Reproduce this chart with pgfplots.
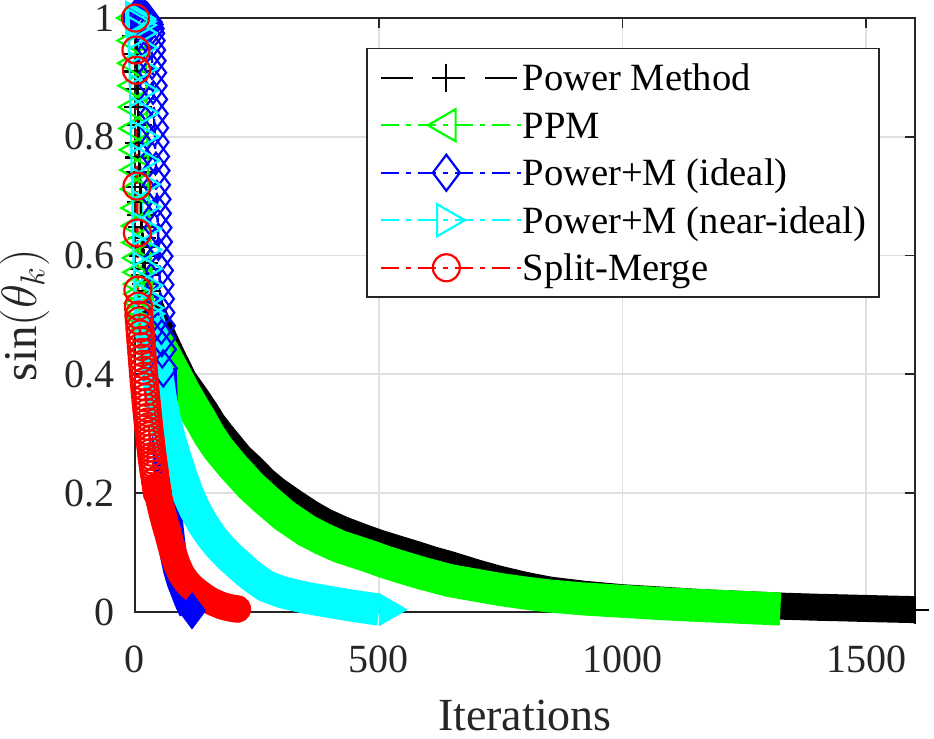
\documentclass[border=0pt]{standalone}
\usepackage{fontspec}
\setmainfont{Liberation Serif}
\usepackage{pgfplots}
\pgfplotsset{compat=1.18}
\usepackage{pgfplotstable}
\definecolor{axgray}{HTML}{262626}
\definecolor{gridgray}{HTML}{DFDFDF}
\definecolor{mgreen}{rgb}{0,1,0}
\definecolor{mcyan}{rgb}{0,1,1}
\definecolor{mblue}{rgb}{0,0,1}
\definecolor{mred}{rgb}{1,0,0}

\pgfplotstableread{
k y
1 1.000
2 0.970
3 0.940
4 0.910
5 0.880
6 0.850
7 0.820
8 0.790
9 0.765
10 0.740
11 0.715
12 0.690
13 0.668
14 0.648
15 0.630
16 0.614
17 0.600
18 0.588
19 0.577
20 0.567
22 0.552
24 0.540
26 0.530
28 0.522
31 0.514
}\pmEarly
\pgfplotstableread{
k y
31 0.514
40 0.497
50 0.478
59 0.461
75 0.433
90 0.408
100 0.391
115 0.374
127 0.360
145 0.338
160 0.318
177 0.300
194 0.283
215 0.262
240 0.243
265 0.222
290 0.205
325 0.185
358 0.167
390 0.152
425 0.139
460 0.128
497 0.117
540 0.106
576 0.097
610 0.088
645 0.080
700 0.066
748 0.055
800 0.045
850 0.037
920 0.030
1000 0.024
1080 0.020
1158 0.016
1240 0.013
1320 0.010
1400 0.008
1450 0.007
1520 0.0055
1600 0.004
}\pmBand
\pgfplotstableread{
k y
1 1.000
2 0.962
3 0.924
4 0.886
5 0.850
6 0.814
7 0.778
8 0.744
9 0.712
10 0.680
11 0.650
12 0.622
13 0.596
14 0.572
15 0.552
16 0.535
17 0.520
18 0.508
20 0.495
}\ppmEarly
\pgfplotstableread{
k y
20 0.495
25 0.485
35 0.468
47 0.452
59 0.436
80 0.403
100 0.372
118 0.346
135 0.323
152 0.298
170 0.276
200 0.246
238 0.212
270 0.188
307 0.162
352 0.137
385 0.123
420 0.110
450 0.102
480 0.094
510 0.085
545 0.076
590 0.065
645 0.053
700 0.045
748 0.038
800 0.032
850 0.027
920 0.022
1000 0.018
1080 0.014
1158 0.011
1240 0.008
1324 0.005
}\ppmBand
\pgfplotstableread{
k y
1 1.000
5 1.000
10 0.9995
15 0.999
20 0.998
24 0.996
27 0.993
29 0.989
31 0.982
32 0.974
33 0.962
34 0.946
35 0.928
36 0.908
37 0.886
38 0.863
39 0.839
40 0.815
41 0.791
42 0.767
43 0.743
44 0.719
45 0.695
46 0.671
47 0.647
48 0.623
49 0.599
50 0.575
51 0.551
52 0.527
53 0.504
54 0.482
55 0.461
56 0.442
58 0.410
}\idEarly
\pgfplotstableread{
k y
58 0.410
60 0.360
62 0.310
64 0.262
66 0.220
68 0.182
71 0.150
75 0.120
79 0.095
85 0.072
92 0.052
100 0.035
108 0.018
117 0.002
}\idBand
\pgfplotstableread{
k y
1 1.000
2 0.999
3 0.997
4 0.994
5 0.988
6 0.975
7 0.950
8 0.915
9 0.878
10 0.840
11 0.800
12 0.760
13 0.720
14 0.682
15 0.645
16 0.610
17 0.578
18 0.550
19 0.528
20 0.512
22 0.502
}\niEarly
\pgfplotstableread{
k y
22 0.502
28 0.490
34 0.470
40 0.436
46 0.400
53 0.360
62 0.322
72 0.290
83 0.260
95 0.230
108 0.200
122 0.174
138 0.150
156 0.128
175 0.109
194 0.093
213 0.079
231 0.066
250 0.054
270 0.043
303 0.033
350 0.024
406 0.016
450 0.010
501 0.004
}\niBand
\pgfplotstableread{
k y
1 1.000
2 0.946
3 0.912
4 0.717
5 0.638
6 0.542
7 0.515
8 0.500
9 0.490
10 0.478
11 0.468
12 0.457
13 0.447
14 0.437
15 0.427
16 0.417
17 0.407
18 0.397
19 0.388
20 0.379
21 0.370
22 0.361
23 0.352
24 0.344
25 0.336
26 0.328
27 0.320
28 0.312
29 0.304
30 0.297
31 0.290
32 0.283
33 0.276
34 0.269
35 0.262
36 0.256
37 0.250
38 0.244
39 0.238
40 0.232
42 0.221
44 0.210
46 0.200
}\smEarly
\pgfplotstableread{
k y
44 0.210
46 0.200
50 0.188
55 0.170
62 0.148
70 0.125
78 0.100
86 0.080
95 0.064
105 0.052
115 0.043
125 0.036
133 0.031
145 0.024
157 0.018
168 0.014
180 0.010
195 0.007
210 0.005
}\smBand

\begin{document}
\begin{tikzpicture}
\begin{axis}[
  anchor=south west, at={(0,0)},
  scale only axis, width=390bp, height=297bp,
  xmin=0, xmax=1600, ymin=0, ymax=1,
  clip=false,
  xtick={0,500,1000,1500},
  ytick={0,0.2,0.4,0.6,0.8,1},
  /pgf/number format/assume math mode=true,
  /pgf/number format/1000 sep={},
  grid=major,
  major grid style={gridgray, line width=0.9bp},
  axis line style={axgray, line width=0.9bp},
  tick style={axgray, line width=0.9bp},
  major tick length=5bp,
  tick align=inside,
  tick label style={font=\fontsize{20bp}{24bp}\selectfont, text=axgray},
  xticklabel style={anchor=north, inner sep=0pt, yshift=-16.5bp},
  yticklabel style={anchor=east, inner sep=0pt, xshift=-10bp},
  xlabel={Iterations},
  xlabel style={at={(axis description cs:0.5,-0.2000)}, anchor=base, inner sep=0pt,
    font=\fontsize{23bp}{27bp}\selectfont, text=axgray},
  ylabel={$\sin(\theta_k)$},
  ylabel style={at={(axis description cs:-0.12564,0.5)}, anchor=base, inner sep=0pt,
    font=\fontsize{23.5bp}{28bp}\selectfont, text=axgray},
  legend cell align=left,
  legend image code/.code={%
    \draw[mark repeat=2,mark phase=2,#1] plot coordinates {(0bp,0bp) (32.5bp,0bp) (65bp,0bp)};
    \path (0bp,0bp) -- (70bp,0bp);},
  legend style={at={(0.955,0.9495)}, anchor=north east, draw=axgray, line width=0.75bp,
    fill=white, font=\fontsize{19.3bp}{23bp}\selectfont,
    inner xsep=6.5bp, inner ysep=5bp, row sep=4.75bp,
    nodes={inner sep=0pt, text height=16bp, text depth=3bp, text=black}},
]
% ---- Power Method (black)
\addplot[black, line width=13.5bp, line cap=butt, line join=round, forget plot] table[x=k,y=y] {\pmBand};
\addplot[black, line width=1.2bp, dash pattern=on 16bp off 10bp, mark=+, mark size=7bp,
  mark options={solid, line width=1.1bp}, forget plot] table[x=k,y=y] {\pmEarly};
\addplot[black, only marks, mark=+, mark size=7bp, mark options={solid, line width=1.1bp}, forget plot]
  coordinates {(1600,0.004)};
% ---- PPM (green)
\addplot[mgreen, line width=16.5bp, line cap=butt, line join=round, forget plot] table[x=k,y=y] {\ppmBand};
\addplot[mgreen, line width=1.2bp, dash pattern=on 9bp off 3.5bp on 2.5bp off 3.5bp, mark=triangle, mark size=9.25bp,
  mark options={solid, rotate=90, line width=1.1bp}, forget plot] table[x=k,y=y] {\ppmEarly};
% ---- Power+M ideal (blue)
\addplot[mblue, line width=13.5bp, line cap=butt, line join=round, forget plot] table[x=k,y=y] {\idBand};
\addplot[mblue, line width=1.2bp, dash pattern=on 9bp off 3.5bp on 2.5bp off 3.5bp, mark=diamond, mark size=9bp,
  mark options={solid, line width=1.1bp}, forget plot] table[x=k,y=y] {\idEarly};
\addplot[mblue, only marks, mark=diamond*, mark size=9bp, mark options={solid, fill=mblue}, forget plot]
  coordinates {(117,0.002)};
% ---- Power+M near-ideal (cyan)
\addplot[mcyan, line width=16bp, line cap=butt, line join=round, forget plot] table[x=k,y=y] {\niBand};
\addplot[mcyan, line width=1.2bp, dash pattern=on 9bp off 3.5bp on 2.5bp off 3.5bp, mark=triangle, mark size=9.25bp,
  mark options={solid, rotate=-90, line width=1.1bp}, forget plot] table[x=k,y=y] {\niEarly};
\addplot[mcyan, only marks, mark=triangle*, mark size=9.25bp, mark options={solid, rotate=-90, fill=mcyan}, forget plot]
  coordinates {(520,0.004)};
% ---- Split-Merge (red)
\addplot[mred, line width=13.75bp, line cap=round, line join=round, forget plot] table[x=k,y=y] {\smBand};
\addplot[mred, line width=1.2bp, dash pattern=on 9bp off 3.5bp on 2.5bp off 3.5bp, mark=o, mark size=6.75bp,
  mark options={solid, line width=1.1bp}, forget plot] table[x=k,y=y] {\smEarly};
% ---- legend
\addlegendimage{black, line width=1.2bp, dash pattern=on 16bp off 10bp, mark=+, mark size=7bp, mark options={solid, line width=1.1bp}}
\addlegendentry{Power Method}
\addlegendimage{mgreen, line width=1.2bp, dash pattern=on 9bp off 3.5bp on 2.5bp off 3.5bp, mark=triangle, mark size=9.25bp, mark options={solid, rotate=90, line width=1.1bp}}
\addlegendentry{PPM}
\addlegendimage{mblue, line width=1.2bp, dash pattern=on 9bp off 3.5bp on 2.5bp off 3.5bp, mark=diamond, mark size=9bp, mark options={solid, line width=1.1bp}}
\addlegendentry{Power+M (ideal)}
\addlegendimage{mcyan, line width=1.2bp, dash pattern=on 9bp off 3.5bp on 2.5bp off 3.5bp, mark=triangle, mark size=9.25bp, mark options={solid, rotate=-90, line width=1.1bp}}
\addlegendentry{Power+M (near-ideal)}
\addlegendimage{mred, line width=1.2bp, dash pattern=on 9bp off 3.5bp on 2.5bp off 3.5bp, mark=o, mark size=6.75bp, mark options={solid, line width=1.1bp}}
\addlegendentry{Split-Merge}
\end{axis}
\pgfresetboundingbox
\path[use as bounding box] (-67.5bp,-63.5bp) rectangle (399.5bp,306bp);
\end{tikzpicture}
\end{document}
